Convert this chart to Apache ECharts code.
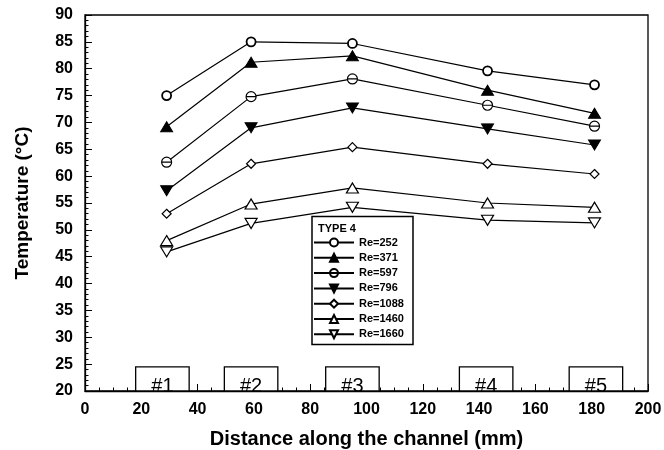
<!DOCTYPE html>
<html>
<head>
<meta charset="utf-8">
<script src="https://cdn.jsdelivr.net/npm/echarts@6/dist/echarts.min.js"></script>
<style>html,body{margin:0;padding:0;background:#fff}#c{width:664px;height:450px}</style>
</head>
<body>
<div id="c"></div>
<script>
// Distance along the channel (mm)
const distances = [29, 59, 95, 143, 181];
// Temperatures (°C) for each Reynolds number
const re252  = [75.0, 85.0, 84.7, 79.6, 77.0];
const re371  = [69.2, 81.2, 82.4, 76.0, 71.7];
const re597  = [62.6, 74.8, 78.1, 73.2, 69.3];
const re796  = [57.3, 69.0, 72.7, 68.8, 65.8];
const re1088 = [53.0, 62.3, 65.4, 62.3, 60.4];
const re1460 = [48.0, 54.8, 57.8, 55.0, 54.2];
const re1660 = [45.9, 51.2, 54.2, 51.8, 51.3];
const seriesNames = ['Re=252','Re=371','Re=597','Re=796','Re=1088','Re=1460','Re=1660'];
// Heater location boxes
const boxLabels = ['#1','#2','#3','#4','#5'];
const boxStart = [18, 49.5, 85.5, 133, 172];
const boxEnd   = [37, 68.5, 104.5, 152, 191];
const boxTop = 24.5;

const FONT = '"Liberation Sans", Arial, Helvetica, sans-serif';
const values = [re252, re371, re597, re796, re1088, re1460, re1660];
const symbols = [
  'circle',
  'triangle',
  'path://M0,10 A10,10 0 1,1 20,10 A10,10 0 1,1 0,10 Z M0,10 L20,10',
  'path://M0,0 L20,0 L10,17 Z',
  'diamond',
  'triangle',
  'path://M0,0 L20,0 L10,17 Z'
];
const fills = ['#fff','#000','#fff','#000','#fff','#fff','#fff'];
const sizes = [[9,9],[12,10],[10,10],[12,10],[9,9],[12,10],[12,10]];
const borderW = [1.8,1,1.2,1,1.2,1.2,1.2];

const series = values.map((v, i) => ({
  name: seriesNames[i],
  type: 'line',
  data: distances.map((d, j) => [d, v[j]]),
  symbol: symbols[i],
  symbolSize: sizes[i],
  showAllSymbol: true,
  lineStyle: { color: '#000', width: 1.2 },
  itemStyle: { color: fills[i], borderColor: '#000', borderWidth: borderW[i] },
  emphasis: { disabled: true },
  z: 3
}));

series.push({
  type: 'custom',
  name: 'boxes',
  data: boxLabels.map((l, i) => [boxStart[i], boxEnd[i], boxTop, l]),
  renderItem: function (params, api) {
    const p0 = api.coord([api.value(0), api.value(2)]);
    const p1 = api.coord([api.value(1), 20]);
    const x = p0[0], y = p0[1], w = p1[0] - p0[0], h = p1[1] - p0[1];
    return {
      type: 'group',
      children: [
        { type: 'rect', shape: { x: x, y: y, width: w, height: h },
          style: { fill: '#fff', stroke: '#000', lineWidth: 1.3 } },
        { type: 'text', style: { text: boxLabels[params.dataIndex], x: x + w / 2, y: p1[1] + 5,
          align: 'center', verticalAlign: 'bottom', font: '20px ' + FONT, fill: '#000' } }
      ]
    };
  },
  clip: true,
  z: 2
});

const chart = echarts.init(document.getElementById('c'), null, { renderer: 'canvas' });
chart.setOption({
  animation: false,
  backgroundColor: '#fff',
  grid: { left: 85, right: 16, top: 15, bottom: 59, outerBoundsMode: 'none', containLabel: false,
    show: true, borderColor: '#000', borderWidth: 1.3, backgroundColor: 'transparent' },
  xAxis: {
    type: 'value', min: 0, max: 200, interval: 20,
    name: 'Distance along the channel (mm)', nameLocation: 'middle', nameGap: 38,
    nameTextStyle: { fontFamily: FONT, fontWeight: 'bold', fontSize: 20, color: '#000' },
    axisLine: { lineStyle: { color: '#000', width: 1.3 } },
    axisTick: { inside: true, length: 7, lineStyle: { color: '#000' } },
    minorTick: { show: true, splitNumber: 4, length: 3.5, lineStyle: { color: '#000' } },
    splitLine: { show: false },
    axisLabel: { fontFamily: FONT, fontWeight: 'bold', fontSize: 16, color: '#000', margin: 11 }
  },
  yAxis: {
    type: 'value', min: 20, max: 90, interval: 5,
    name: 'Temperature (°C)', nameLocation: 'middle', nameGap: 53,
    nameTextStyle: { fontFamily: FONT, fontWeight: 'bold', fontSize: 19, color: '#000' },
    axisLine: { show: true, lineStyle: { color: '#000', width: 1.3 } },
    axisTick: { show: true, inside: true, length: 7, lineStyle: { color: '#000' } },
    minorTick: { show: true, splitNumber: 5, length: 3.5, lineStyle: { color: '#000' } },
    splitLine: { show: false },
    axisLabel: { fontFamily: FONT, fontWeight: 'bold', fontSize: 16, color: '#000', margin: 12 }
  },
  legend: {
    data: seriesNames,
    orient: 'vertical', left: 313, top: 237,
    itemWidth: 40, itemHeight: 10, itemGap: 4.3, padding: 0,
    textStyle: { fontFamily: FONT, fontWeight: 'bold', fontSize: 11, color: '#000' },
    selectedMode: false, z: 6
  },
  graphic: [
    { type: 'rect', z: 5, shape: { x: 312, y: 216.5, width: 101, height: 128 },
      style: { fill: '#fff', stroke: '#000', lineWidth: 1.5 } },
    { type: 'text', z: 6, x: 318, y: 229, style: { text: 'TYPE 4', font: 'bold 11px ' + FONT, fill: '#000', verticalAlign: 'middle' } }
  ],
  series: series
});
</script>
</body>
</html>
